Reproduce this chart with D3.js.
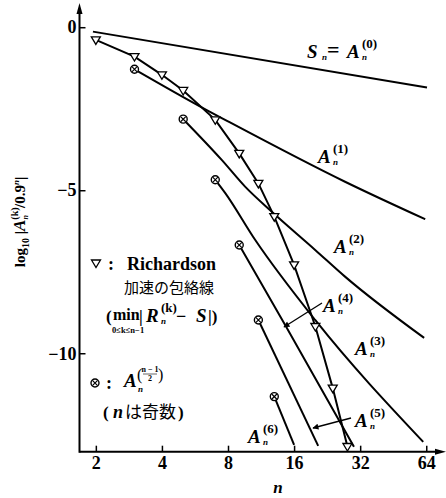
<!DOCTYPE html>
<html>
<head>
<meta charset="utf-8">
<script src="https://cdn.jsdelivr.net/npm/d3@7"></script>
<style>
body { margin: 0; background: #fff; }
text { font-family: "Liberation Serif", "DejaVu Serif", serif; font-weight: bold; fill: #000; }
.cjk { font-family: "Noto Sans CJK JP", sans-serif; font-weight: normal; }
</style>
</head>
<body>
<script>
// tick labels
var xTicks = [2, 4, 8, 16, 32, 64];
var yTicks = [0, -5, -10];

// S_n = A_n^(0)
var sN = [1.94, 64.5];
var sV = [-0.135, -1.85];

// Richardson envelope (triangles)
var richN = [2, 3, 4, 5, 7, 9, 11, 13, 16, 20, 24, 28];
var richV = [-0.39, -0.90, -1.46, -1.94, -2.84, -3.87, -4.79, -5.81, -7.29, -9.18, -11.07, -12.86];

// A_n^((n-1)/2), n odd (circled crosses)
var oddN = [3, 5, 7, 9, 11, 13];
var oddV = [-1.29, -2.82, -4.68, -6.68, -8.98, -11.33];

// A_n^(k) curves
var a1N = [3, 6.4, 7.76, 27.3, 63.3];
var a1V = [-1.29, -2.54, -2.84, -4.74, -5.89];
var a2N = [5, 7.49, 9.57, 12.67, 19.96, 27.3, 62.6];
var a2V = [-2.82, -4.07, -4.89, -5.66, -6.83, -7.65, -9.53];
var a3N = [7, 7.76, 10.63, 19.96, 62];
var a3V = [-4.68, -5.08, -6.52, -8.98, -12.72];
var a4N = [9, 14.7, 30];
var a4V = [-6.68, -9.18, -12.87];
var a5N = [11, 20.6];
var a5V = [-8.98, -12.84];
var a6N = [13, 16];
var a6V = [-11.33, -12.81];

var w = 446, h = 498;

var svg = d3.select("body").append("svg")
    .attr("width", w)
    .attr("height", h);

var x = d3.scaleLog().base(2).domain([1.685, 77.5]).range([79.5, 444.5]);
var y = d3.scaleLinear().domain([0.62, -13.02]).range([7, 451.7]);

function pts(ns, vs) { return ns.map(function(n, i) { return [n, vs[i]]; }); }

// axes
var xAxis = svg.append("g")
    .attr("transform", "translate(0," + y(-13.02) + ")")
    .call(d3.axisBottom(x).tickValues(xTicks).tickFormat(d3.format("d"))
        .tickSize(-6).tickSizeOuter(0).tickPadding(5));
xAxis.select(".domain").remove();
xAxis.selectAll("line").attr("stroke-width", 1.5);
xAxis.selectAll("text").style("font-size", "18px");

var yAxis = svg.append("g")
    .attr("transform", "translate(" + x(1.685) + ",0)")
    .call(d3.axisLeft(y).tickValues(yTicks).tickFormat(d3.format("d"))
        .tickSize(-6).tickSizeOuter(0).tickPadding(3));
yAxis.select(".domain").remove();
yAxis.selectAll("line").attr("stroke-width", 1.5);
yAxis.selectAll("text").style("font-size", "18px");

var x0 = x(1.685), yb = y(-13.02);
svg.append("line").attr("x1", x0).attr("x2", 438).attr("y1", yb).attr("y2", yb)
    .attr("stroke", "#000").attr("stroke-width", 2);
svg.append("path").attr("d", "M446," + yb + " L435," + (yb - 3) + " L435," + (yb + 3) + "Z");
svg.append("line").attr("x1", x0).attr("x2", x0).attr("y1", yb + 1).attr("y2", 13)
    .attr("stroke", "#000").attr("stroke-width", 2);
svg.append("path").attr("d", "M" + x0 + ",3 L" + (x0 - 3) + ",14 L" + (x0 + 3) + ",14Z");

// lines
var line = d3.line().x(function(d) { return x(d[0]); }).y(function(d) { return y(d[1]); });
var curve = d3.line().curve(d3.curveMonotoneX)
    .x(function(d) { return x(d[0]); }).y(function(d) { return y(d[1]); });

var series = [pts(sN, sV), pts(a1N, a1V), pts(a2N, a2V), pts(a3N, a3V),
              pts(a4N, a4V), pts(a5N, a5V), pts(a6N, a6V)];
svg.selectAll("path.curve").data(series).enter().append("path")
    .attr("class", "curve")
    .attr("d", curve)
    .attr("fill", "none").attr("stroke", "#000").attr("stroke-width", 2);

svg.append("path").datum(pts(richN, richV))
    .attr("d", line)
    .attr("fill", "none").attr("stroke", "#000").attr("stroke-width", 2);

// triangle markers
var tri = "M-4.5,-3 L4.5,-3 L0,4.5Z";
svg.selectAll("path.tri").data(pts(richN, richV)).enter().append("path")
    .attr("class", "tri")
    .attr("d", tri)
    .attr("transform", function(d) { return "translate(" + x(d[0]) + "," + y(d[1]) + ")"; })
    .attr("fill", "#fff").attr("stroke", "#000").attr("stroke-width", 1.3);

// circled crosses
function otimes(g) {
    g.append("circle").attr("r", 4).attr("fill", "#fff").attr("stroke", "#000").attr("stroke-width", 1.4);
    g.append("path").attr("d", "M-2.6,-2.6L2.6,2.6M-2.6,2.6L2.6,-2.6")
        .attr("stroke", "#000").attr("stroke-width", 1.2);
}
svg.selectAll("g.ox").data(pts(oddN, oddV)).enter().append("g")
    .attr("class", "ox")
    .attr("transform", function(d) { return "translate(" + x(d[0]) + "," + y(d[1]) + ")"; })
    .each(function() { otimes(d3.select(this)); });

// labels A_n^(k)
function aLabel(px, py, sup, letter) {
    svg.append("text").attr("x", px).attr("y", py)
        .style("font-size", "19px").style("font-style", "italic").text(letter || "A");
    svg.append("text").attr("x", px + 15).attr("y", py - 10)
        .style("font-size", "13px").text(sup);
    svg.append("text").attr("x", px + 15).attr("y", py + 2)
        .style("font-size", "9px").style("font-style", "italic").text("n");
}
aLabel(307, 58, "", "S");
svg.append("text").attr("x", 327).attr("y", 57).style("font-size", "22px").text("=");
aLabel(347, 58, "(0)");
aLabel(318, 163, "(1)");
aLabel(334, 253, "(2)");
aLabel(355, 355, "(3)");
aLabel(323, 312, "(4)");
aLabel(355, 427, "(5)");
aLabel(248, 443, "(6)");

// leader arrows
svg.append("defs").append("marker")
    .attr("id", "ah").attr("viewBox", "0 0 10 10").attr("refX", 9).attr("refY", 5)
    .attr("markerWidth", 8).attr("markerHeight", 6).attr("markerUnits", "userSpaceOnUse")
    .attr("orient", "auto")
    .append("path").attr("d", "M0,0 L10,5 L0,10Z");
svg.append("line").attr("x1", 322).attr("y1", 303).attr("x2", 284).attr("y2", 327)
    .attr("stroke", "#000").attr("stroke-width", 1.3).attr("marker-end", "url(#ah)");
svg.append("line").attr("x1", 351).attr("y1", 418).attr("x2", 313).attr("y2", 428)
    .attr("stroke", "#000").attr("stroke-width", 1.3).attr("marker-end", "url(#ah)");

// y axis title
var yt = svg.append("text").attr("transform", "translate(25,222) rotate(-90)")
    .attr("text-anchor", "middle").style("font-size", "15px");
yt.append("tspan").text("log");
yt.append("tspan").attr("dy", 4).style("font-size", "10px").text("10");
yt.append("tspan").attr("dy", -4).text(" |");
yt.append("tspan").style("font-style", "italic").style("font-size", "17px").text("A");
yt.append("tspan").attr("dy", -7).style("font-size", "10px").text("(k)");
yt.append("tspan").attr("dx", -12).attr("dy", 10).style("font-size", "8px").style("font-style", "italic").text("n");
yt.append("tspan").attr("dx", 7).attr("dy", -3).text("/0.9");
yt.append("tspan").attr("dy", -6).style("font-size", "9px").style("font-style", "italic").text("n");
yt.append("tspan").attr("dy", 6).text("|");

// x axis title
svg.append("text").attr("x", 278).attr("y", 493).attr("text-anchor", "middle")
    .style("font-size", "17px").style("font-style", "italic").text("n");

// legend: Richardson
svg.append("path").attr("d", tri).attr("transform", "translate(96,263)")
    .attr("fill", "#fff").attr("stroke", "#000").attr("stroke-width", 1.3);
svg.append("text").attr("x", 108).attr("y", 270).style("font-size", "18px").text(":");
svg.append("text").attr("x", 127).attr("y", 270).style("font-size", "18px").text("Richardson");
svg.append("text").attr("class", "cjk").attr("x", 124).attr("y", 293).style("font-size", "15px").text("加速の包絡線");
svg.append("text").attr("x", 106).attr("y", 322).style("font-size", "17px").text("(");
svg.append("text").attr("x", 113).attr("y", 320).style("font-size", "16px").text("min");
svg.append("text").attr("x", 112).attr("y", 333).style("font-size", "8.5px").text("0≤k≤n−1");
svg.append("text").attr("x", 139).attr("y", 322).style("font-size", "17px").text("|");
aLabel(146, 322, "(k)", "R");
svg.append("text").attr("x", 176).attr("y", 322).style("font-size", "18px").text("−");
svg.append("text").attr("x", 196).attr("y", 322).style("font-size", "19px").style("font-style", "italic").text("S");
svg.append("text").attr("x", 208).attr("y", 322).style("font-size", "17px").text("|)");

// legend: circled cross
var lg = svg.append("g").attr("transform", "translate(95,383)");
otimes(lg);
svg.append("text").attr("x", 106).attr("y", 389).style("font-size", "18px").text(":");
svg.append("text").attr("x", 124).attr("y", 387).style("font-size", "19px").style("font-style", "italic").text("A");
svg.append("text").attr("x", 138).attr("y", 392).style("font-size", "9px").style("font-style", "italic").text("n");
svg.append("text").attr("x", 137).attr("y", 380).style("font-size", "16px").style("font-weight", "normal").text("(");
svg.append("text").attr("x", 150).attr("y", 372).attr("text-anchor", "middle").style("font-size", "8px").text("n − 1");
svg.append("line").attr("x1", 143).attr("x2", 157).attr("y1", 374).attr("y2", 374).attr("stroke", "#000").attr("stroke-width", 0.6);
svg.append("text").attr("x", 150).attr("y", 381).attr("text-anchor", "middle").style("font-size", "8px").text("2");
svg.append("text").attr("x", 158).attr("y", 380).style("font-size", "16px").style("font-weight", "normal").text(")");
svg.append("text").attr("x", 103).attr("y", 418).style("font-size", "17px").text("(");
svg.append("text").attr("x", 113).attr("y", 418).style("font-size", "18px").style("font-style", "italic").text("n");
svg.append("text").attr("class", "cjk").attr("x", 125).attr("y", 418).style("font-size", "17px").text("は奇数");
svg.append("text").attr("x", 178).attr("y", 418).style("font-size", "17px").text(")");
</script>
</body>
</html>
